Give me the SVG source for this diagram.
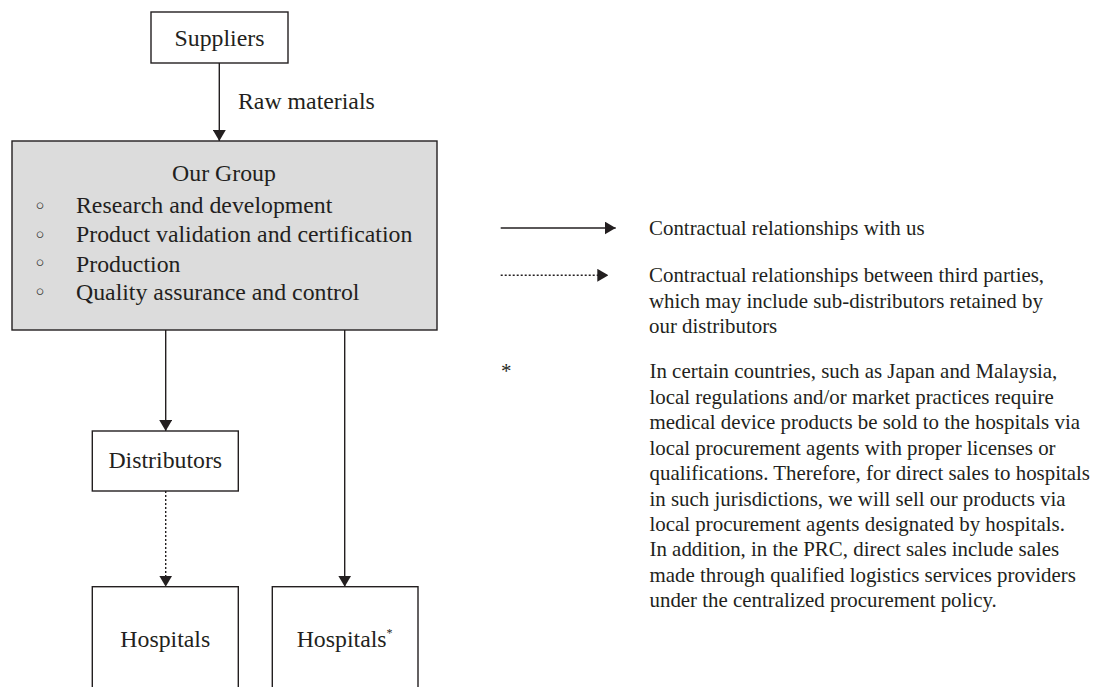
<svg xmlns="http://www.w3.org/2000/svg" width="1101" height="687" viewBox="0 0 1101 687">
  <style>
    .box { fill: #ffffff; stroke: #231f20; stroke-width: 1.4; }
    .grp { fill: #dcdcdc; stroke: #231f20; stroke-width: 1.4; }
    .t { font-family: "Liberation Serif", "Times New Roman", serif; fill: #231f20; }
    .big { font-size: 23.8px; }
    .small { font-size: 20.9px; }
    .ln { stroke: #231f20; stroke-width: 1.4; fill: none; }
    .dot { stroke-dasharray: 2 2; }
  </style>
  <defs>
    <marker id="ah" viewBox="0 0 11 13" refX="11" refY="6.5" markerWidth="11" markerHeight="13" markerUnits="userSpaceOnUse" orient="auto">
      <path d="M0,0 L11,6.5 L0,13 Z" fill="#231f20"/>
    </marker>
  </defs>
  <rect width="1101" height="687" fill="#ffffff"/>

  <g id="connectors">
    <line class="ln" x1="219.3" y1="63" x2="219.3" y2="141" marker-end="url(#ah)"/>
    <line class="ln" x1="165.7" y1="330" x2="165.7" y2="431" marker-end="url(#ah)"/>
    <line class="ln dot" x1="165.7" y1="491" x2="165.7" y2="586.7" marker-end="url(#ah)"/>
    <line class="ln" x1="344.7" y1="330" x2="344.7" y2="586.7" marker-end="url(#ah)"/>
    <text class="t big" x="238" y="109">Raw materials</text>
  </g>

  <g id="suppliers">
    <rect class="box" x="151" y="12" width="137" height="51"/>
    <text class="t big" x="219.5" y="45.5" text-anchor="middle">Suppliers</text>
  </g>

  <g id="our-group">
    <rect class="grp" x="12" y="141" width="425" height="189"/>
    <text class="t big" x="224" y="181" text-anchor="middle">Our Group</text>
    <g font-family="DejaVu Sans, sans-serif" font-size="22" fill="#231f20" text-anchor="middle">
      <text x="40" y="213.7">◦</text>
      <text x="40" y="242.5">◦</text>
      <text x="40" y="271.3">◦</text>
      <text x="40" y="300.3">◦</text>
    </g>
    <text class="t big" x="76" y="213.3">Research and development</text>
    <text class="t big" x="76" y="242.3">Product validation and certification</text>
    <text class="t big" x="76" y="271.5">Production</text>
    <text class="t big" x="76" y="300.3">Quality assurance and control</text>
  </g>

  <g id="distributors">
    <rect class="box" x="92.3" y="431" width="146" height="60"/>
    <text class="t big" x="165.3" y="468.3" text-anchor="middle">Distributors</text>
  </g>

  <g id="hospitals-1">
    <rect class="box" x="92.3" y="586.7" width="146" height="120"/>
    <text class="t big" x="165.3" y="646.7" text-anchor="middle">Hospitals</text>
  </g>

  <g id="hospitals-2">
    <rect class="box" x="272.3" y="586.7" width="145.7" height="120"/>
    <text class="t big" x="296.7" y="646.7">Hospitals<tspan font-size="12" dy="-10">*</tspan></text>
  </g>

  <g id="legend">
    <line class="ln" x1="500.7" y1="228" x2="615.7" y2="228" marker-end="url(#ah)"/>
    <text class="t small" x="649" y="235">Contractual relationships with us</text>
    <line class="ln dot" x1="500.7" y1="275.3" x2="608.3" y2="275.3" marker-end="url(#ah)"/>
    <text class="t small" x="649" y="282.2">Contractual relationships between third parties,</text>
    <text class="t small" x="649" y="307.6">which may include sub-distributors retained by</text>
    <text class="t small" x="649" y="333">our distributors</text>
  </g>

  <g id="footnote">
    <text class="t small" x="501" y="378.3">*</text>
    <text class="t small" x="649.5" y="378.3">In certain countries, such as Japan and Malaysia,</text>
    <text class="t small" x="649.5" y="403.75">local regulations and/or market practices require</text>
    <text class="t small" x="649.5" y="429.2">medical device products be sold to the hospitals via</text>
    <text class="t small" x="649.5" y="454.65">local procurement agents with proper licenses or</text>
    <text class="t small" x="649.5" y="480.1">qualifications. Therefore, for direct sales to hospitals</text>
    <text class="t small" x="649.5" y="505.55">in such jurisdictions, we will sell our products via</text>
    <text class="t small" x="649.5" y="531">local procurement agents designated by hospitals.</text>
    <text class="t small" x="649.5" y="556.45">In addition, in the PRC, direct sales include sales</text>
    <text class="t small" x="649.5" y="581.9">made through qualified logistics services providers</text>
    <text class="t small" x="649.5" y="607.35">under the centralized procurement policy.</text>
  </g>
</svg>
